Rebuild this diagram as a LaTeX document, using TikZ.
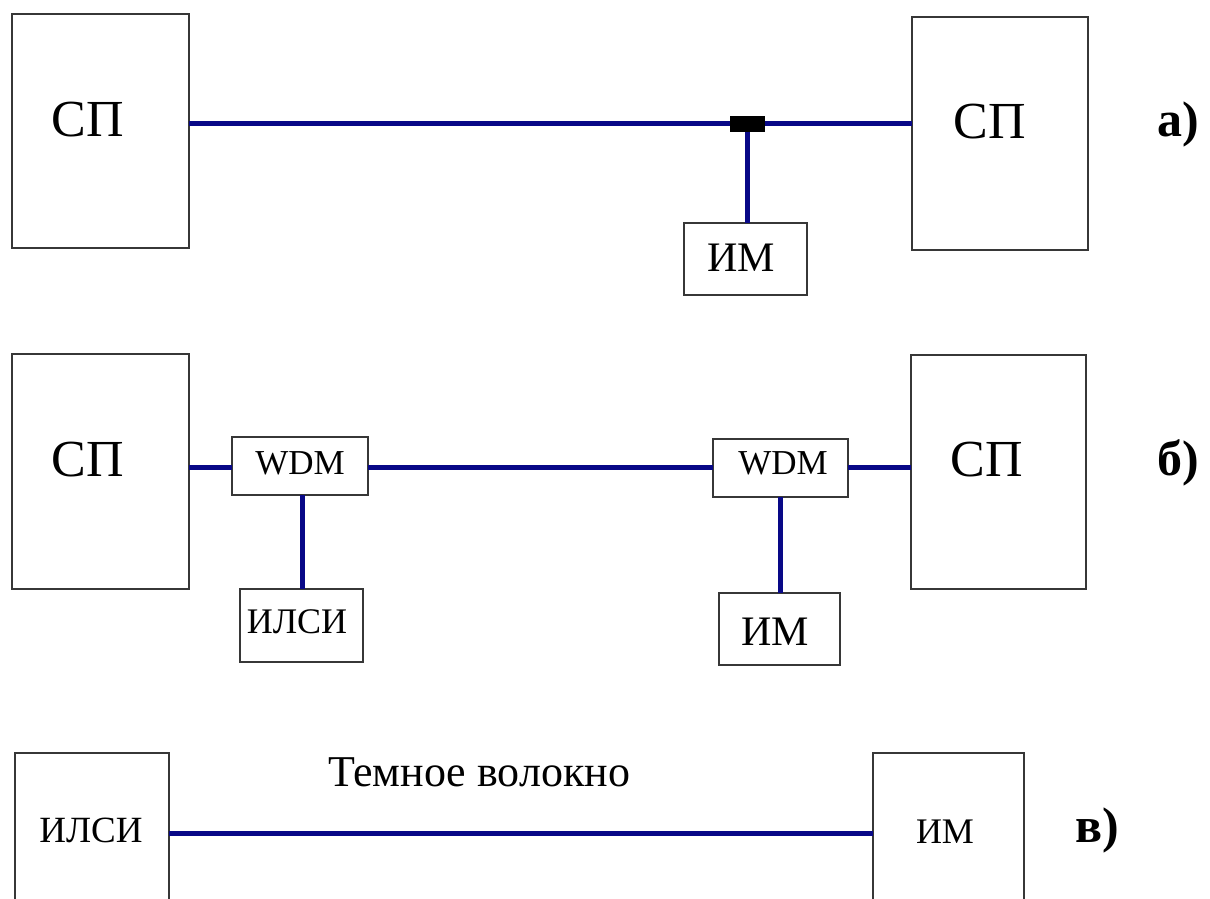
\documentclass[tikz,border=0pt]{standalone}
\usepackage{fontspec}
\setmainfont{Liberation Serif}
\begin{document}
\begin{tikzpicture}[x=1pt,y=-1pt,
  box/.style={draw=boxgray,line width=2pt,inner sep=0pt,outer sep=0pt},
  openbox/.style={inner sep=0pt,outer sep=0pt},
  fibre/.style={draw=fibreblue,line width=5pt},
  txt/.style={inner sep=0pt,font=\fontsize{#1}{#1}\selectfont},
  lbl/.style={inner sep=0pt,font=\fontsize{50}{50}\selectfont\bfseries}]
\definecolor{boxgray}{RGB}{55,55,55}
\definecolor{fibreblue}{RGB}{8,8,135}
\useasboundingbox[fill=white] (0,0) rectangle (1210,899);
% ---------- a)
\node[box,minimum width=177pt,minimum height=234pt] (a1) at (100.5,131) {};
\node[box,minimum width=176pt,minimum height=233pt] (a2) at (1000,133.5) {};
\node[box,minimum width=123pt,minimum height=72pt] (aim) at (745.5,259) {};
\node[fill=black,minimum width=35pt,minimum height=16pt,inner sep=0pt,outer sep=0pt] (cpl) at (747.5,124) {};
\node[txt=52] (ta1) at (88,120) {СП};
\node[txt=52] (ta2) at (990,122) {СП};
\node[txt=42] (taim) at (741,258) {ИМ};
\coordinate (aL) at (a1.east |- 0,123);
\coordinate (aR) at (a2.west |- 0,123);
\draw[fibre] (aL) -- (cpl.west |- aL);
\draw[fibre] (cpl.east |- aR) -- (aR);
\draw[fibre] (cpl.south -| 747,0) -- (aim.north -| 747,0);
\node[lbl] (la) at (1178,124) {а)};
% ---------- b)
\node[box,minimum width=177pt,minimum height=235pt] (b1) at (100.5,471.5) {};
\node[box,minimum width=175pt,minimum height=234pt] (b2) at (998.5,472) {};
\node[box,minimum width=136pt,minimum height=58pt] (bw1) at (300,466) {};
\node[box,minimum width=135pt,minimum height=58pt] (bw2) at (780.5,468) {};
\node[box,minimum width=123pt,minimum height=73pt] (bil) at (301.5,625.5) {};
\node[box,minimum width=121pt,minimum height=72pt] (bim) at (779.5,629) {};
\node[txt=52] (tb1) at (88,460) {СП};
\node[txt=52] (tb2) at (987,460) {СП};
\node[txt=35] (tbw1) at (300,463) {WDM};
\node[txt=35] (tbw2) at (783,463) {WDM};
\node[txt=36] (tbil) at (297,622) {ИЛСИ};
\node[txt=42] (tbim) at (775,632) {ИМ};
\draw[fibre] (b1.east |- 0,467) -- (bw1.west |- 0,467);
\draw[fibre] (bw1.east |- 0,467) -- (bw2.west |- 0,467);
\draw[fibre] (bw2.east |- 0,467) -- (b2.west |- 0,467);
\draw[fibre] (bw1.south -| 302,0) -- (bil.north -| 302,0);
\draw[fibre] (bw2.south -| 780,0) -- (bim.north -| 780,0);
\node[lbl] (lb) at (1178,463) {б)};
% ---------- c)
\node[openbox,minimum width=154pt,minimum height=146pt] (c1) at (92,826) {};
\node[openbox,minimum width=151pt,minimum height=146pt] (c2) at (948.5,826) {};
\draw[boxgray,line width=2pt] (c1.south west) -- (c1.north west) -- (c1.north east) -- (c1.south east);
\draw[boxgray,line width=2pt] (c2.south west) -- (c2.north west) -- (c2.north east) -- (c2.south east);
\node[txt=37] (tc1) at (91,830) {ИЛСИ};
\node[txt=36] (tc2) at (945,832) {ИМ};
\draw[fibre] (c1.east |- 0,833) -- (c2.west |- 0,833);
\node[txt=44] (tdark) at (479,772) {Темное волокно};
\node[lbl] (lc) at (1097,830) {в)};
\end{tikzpicture}
\end{document}
